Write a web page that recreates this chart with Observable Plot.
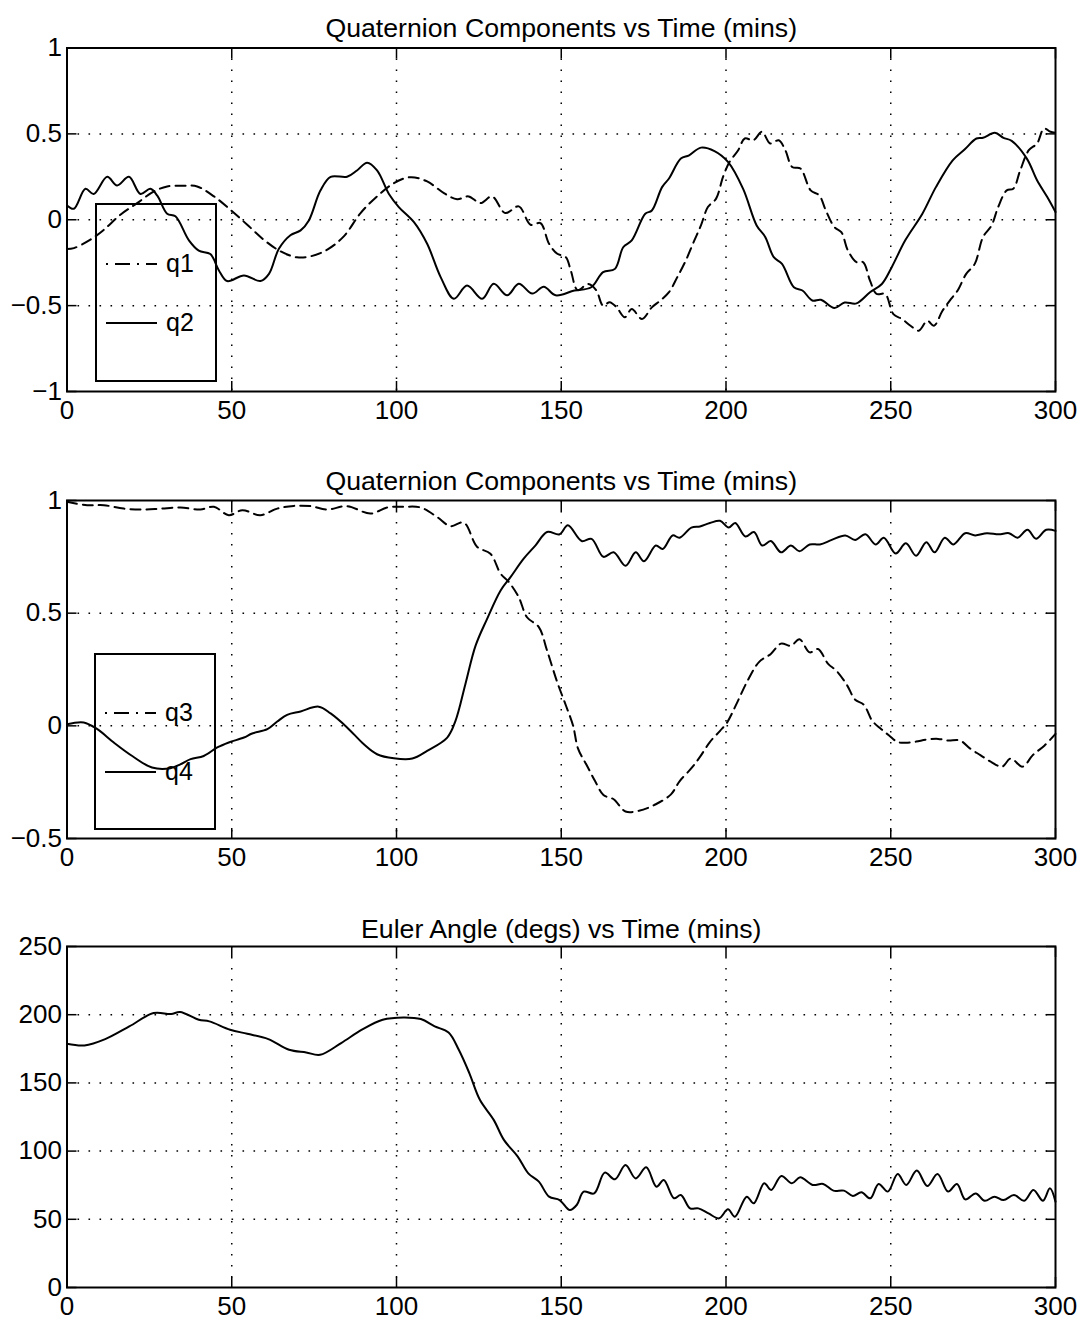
<!DOCTYPE html>
<html><head><meta charset="utf-8">
<script src="https://cdn.jsdelivr.net/npm/d3@7"></script>
<script src="https://cdn.jsdelivr.net/npm/@observablehq/plot@0.6"></script>
<style>
html,body{margin:0;padding:0;background:#fff;}
#page{position:relative;width:1086px;height:1324px;overflow:hidden;background:#fff;}
.panel{position:absolute;left:0;}
.legend{position:absolute;pointer-events:none;overflow:visible;}
</style></head><body><div id="page"></div>
<script>
// ---------- data ----------
const xTicks = [0, 50, 100, 150, 200, 250, 300];
const yTicksQ12 = [-1, -0.5, 0, 0.5, 1];
const yTicksQ34 = [-0.5, 0, 0.5, 1];
const yTicksEuler = [0, 50, 100, 150, 200, 250];

const titleQ = "Quaternion Components vs Time (mins)";
const titleEuler = "Euler Angle (degs) vs Time (mins)";

const q1T = [0,2.1,7.1,11.2,16.2,21.3,26.4,30.4,35.5,39.5,44.6,49.6,54.7,59.7,64.8,69.8,73.9,79,84,89.1,94.1,99.2,104.2,109.3,114.4,118.4,121.9,125.5,129,133,137.1,140.7,143.7,146.3,148.8,151.4,152.9,155,158.1,160.6,162.7,164.7,166.8,169.3,171.4,174.5,177.5,180.1,182.7,185.2,187.8,190.4,192.4,194.5,197,199.1,201.1,203.7,205.7,208.3,210.9,213.4,216,218,220.1,222.6,225.7,228.3,230.3,232.9,235,237,239.6,241.6,243.7,245.7,248.3,250.8,253.4,256,258.5,261.1,263.1,265.7,268.3,270.3,272.9,275.5,278,280.6,282.6,285.2,287.2,289.3,291.9,294.4,296.5,298.5,300];
const q1V = [-0.17,-0.165,-0.116,-0.058,0.029,0.097,0.165,0.194,0.198,0.194,0.136,0.058,-0.029,-0.116,-0.184,-0.219,-0.213,-0.174,-0.097,0.039,0.136,0.213,0.248,0.223,0.155,0.12,0.136,0.097,0.136,0.039,0.078,-0.029,-0.02,-0.14,-0.198,-0.218,-0.296,-0.41,-0.374,-0.41,-0.5,-0.48,-0.51,-0.568,-0.52,-0.578,-0.51,-0.47,-0.422,-0.335,-0.237,-0.12,-0.033,0.074,0.123,0.25,0.337,0.405,0.473,0.463,0.512,0.444,0.463,0.405,0.307,0.298,0.171,0.142,0.054,-0.043,-0.072,-0.179,-0.247,-0.247,-0.354,-0.432,-0.432,-0.549,-0.578,-0.617,-0.646,-0.588,-0.617,-0.53,-0.461,-0.412,-0.315,-0.257,-0.101,-0.033,0.074,0.171,0.181,0.288,0.405,0.444,0.531,0.512,0.506];

const q2T = [0,2.1,5.6,8.1,12.2,15.2,18.8,22.3,25.3,27.4,30.4,32.9,37,40,43.5,46.1,48.6,53.7,58.7,61.3,64.3,67.8,70.9,73.4,76.9,80,85,88,91.1,94.1,97.7,100.7,105.3,109.3,113.4,117.4,121.4,126,129.5,133.6,137.1,141.2,144.7,148.3,154,159.1,162.7,166.3,168.8,171.4,175.5,177.5,180.6,182.7,186.3,188.8,192.4,196.5,200.6,205.2,209.3,211.9,214.5,217,220.6,223.2,226.2,228.8,232.9,236,239.6,243.7,247.3,250.3,254.4,259.6,263.7,268.8,272.4,276,278,281.6,284.2,286.7,291.3,294.4,297.5,300];
const q2V = [0.083,0.064,0.18,0.15,0.25,0.20,0.25,0.15,0.18,0.14,0.035,0.02,-0.12,-0.18,-0.20,-0.295,-0.357,-0.324,-0.357,-0.315,-0.169,-0.09,-0.062,-0.004,0.17,0.25,0.25,0.287,0.332,0.287,0.15,0.074,-0.014,-0.14,-0.334,-0.46,-0.383,-0.46,-0.373,-0.44,-0.373,-0.43,-0.39,-0.44,-0.412,-0.393,-0.305,-0.286,-0.16,-0.12,0.035,0.054,0.19,0.24,0.356,0.375,0.42,0.40,0.337,0.18,-0.033,-0.10,-0.218,-0.257,-0.393,-0.412,-0.47,-0.466,-0.514,-0.482,-0.487,-0.422,-0.374,-0.276,-0.12,0.035,0.19,0.346,0.409,0.473,0.477,0.506,0.477,0.459,0.356,0.23,0.132,0.045];

const q3T = [0,6.1,11.2,17.2,23.3,28.4,34.4,40.5,44.6,49.1,53.2,58.7,63.8,68.8,73.9,79,85,92.1,97.2,102.2,107.3,112.3,116.4,120.4,124.5,128.5,131.6,134.1,137.1,139.6,143.2,145.7,148.8,151.5,153.6,155.1,157.7,160.3,162.8,165.9,169.5,173.6,178.7,183.3,185.9,189.5,192.1,195.1,198.2,200.3,203.3,206.4,210,213.6,216.7,219.7,222.3,225.4,227.9,231,233.6,236.7,239.2,241.8,244.4,246.9,249.5,252.1,254.6,257.7,260.8,264.4,267.4,271,274.1,277.2,280.3,283.8,286.4,290,293.1,296.7,300];
const q3V = [0.994,0.979,0.979,0.964,0.96,0.964,0.969,0.96,0.972,0.935,0.957,0.935,0.964,0.976,0.975,0.96,0.975,0.942,0.969,0.972,0.969,0.927,0.886,0.902,0.794,0.764,0.675,0.638,0.571,0.482,0.438,0.334,0.193,0.087,0,-0.101,-0.174,-0.246,-0.307,-0.326,-0.38,-0.377,-0.348,-0.304,-0.246,-0.188,-0.138,-0.072,-0.022,0.014,0.101,0.196,0.283,0.319,0.365,0.355,0.384,0.326,0.341,0.275,0.243,0.181,0.116,0.094,0.022,-0.012,-0.043,-0.072,-0.075,-0.07,-0.061,-0.058,-0.065,-0.065,-0.101,-0.13,-0.159,-0.181,-0.145,-0.181,-0.13,-0.087,-0.036];

const q4T = [0,5.1,9.2,14.2,19.8,25.8,31.4,34.4,37.5,41.5,45.6,49.1,53.7,56.2,60.8,63.8,66.8,70.9,76.4,80,85,90.1,94.1,99.2,104.8,109.3,115.4,117.9,120.9,124,127.5,131.6,134.6,138.6,142.2,145.7,149.5,152,156.2,159.2,162.8,165.9,169.5,172.6,175.1,178.7,180.8,183.8,185.9,189.5,192.1,195.1,198.2,200.8,202.8,205.9,208.5,211,213.6,216.7,219.7,222.3,225.4,228.5,232.1,236.2,239.2,242.3,245.4,247.9,251.5,254.6,257.7,260.8,263.3,266.4,269,272.6,275.6,279.2,282.8,285.9,288.5,291.5,294.1,297.2,300];
const q4V = [0.007,0.015,-0.015,-0.074,-0.134,-0.185,-0.188,-0.171,-0.148,-0.134,-0.096,-0.074,-0.052,-0.034,-0.015,0.019,0.049,0.064,0.085,0.055,-0.007,-0.082,-0.126,-0.144,-0.145,-0.111,-0.052,0.022,0.185,0.356,0.475,0.601,0.66,0.742,0.801,0.86,0.85,0.89,0.82,0.83,0.75,0.77,0.71,0.77,0.73,0.80,0.785,0.845,0.835,0.88,0.885,0.9,0.91,0.88,0.9,0.84,0.86,0.8,0.82,0.77,0.8,0.775,0.805,0.805,0.825,0.845,0.825,0.85,0.805,0.835,0.765,0.81,0.755,0.815,0.77,0.835,0.805,0.855,0.845,0.855,0.85,0.855,0.835,0.87,0.83,0.87,0.865];

const eulerT = [0,5.3,11.6,18.9,26.3,31.6,34.3,40,43.2,49.5,54.7,61.1,67.4,72.6,76.8,83.2,89.5,95.8,102.1,107.4,111.6,115.8,118.9,122.1,125.3,129.5,132.6,136.8,140,143.2,146.3,149.5,152.6,154.7,156.8,160,163.2,166.3,169.5,172.6,175.8,178.9,181.1,184.2,186.3,189.1,191.6,194.7,197.9,200.6,202.7,206.3,208.4,211.6,213.7,216.8,220,222.5,226.3,229.5,232.6,235.8,238.5,241.1,243.8,246.3,249.1,252.1,254.7,257.9,261.1,264.2,267.4,270.1,272.6,275.8,278.5,281.5,284.2,287.4,290.5,293.3,296.2,298.3,300];
const eulerV = [178.7,177.5,182.1,191.4,201.2,200.5,202,196.3,195.1,189,186,182.1,174.3,172.3,170.6,179.2,189,196.3,198,196.8,191.4,187,174.3,157.2,137.6,122.9,108.2,96,83.7,77.6,66.6,64.1,56.8,60.5,70.3,69,84.2,79.3,89.8,80,88.1,73.9,78.8,65.4,67.8,58,58,54.3,50.7,57.3,51.9,66.6,61.7,76.4,71.5,81.8,76.4,80.8,75.2,75.9,71,71,67.1,69.8,65.4,75.9,70.3,83.2,75.2,85.7,74.4,83.2,70.3,75.9,64.6,69,63.6,66.6,64.1,67.8,63.6,71.5,63.6,72.7,62.9];

// ---------- drawing ----------
const FONT = '"Liberation Sans", Arial, Helvetica, sans-serif';
const page = document.getElementById("page");
const DASHED = "10,6";
const fmtY = d3.format("~g");

function zip(t, v) {
  const n = Math.min(t.length, v.length);
  return d3.range(n).map(i => ({t: t[i], v: v[i]}));
}

function panel({top, height, mt, mb, yDomain, yTicks, title, titleDy, series}) {
  const grid = {stroke: "black", strokeOpacity: 1, strokeWidth: 1.5, strokeDasharray: "1.6,9.4"};
  const chart = Plot.plot({
    width: 1086, height,
    marginLeft: 66.5, marginRight: 31, marginTop: mt, marginBottom: mb,
    style: {fontFamily: FONT, color: "black", background: "transparent", overflow: "visible"},
    x: {domain: [0, 300], label: null},
    y: {domain: yDomain, label: null},
    marks: [
      Plot.gridX({ticks: xTicks.slice(1, -1), ...grid}),
      Plot.gridY({ticks: yTicks.slice(1, -1), ...grid}),
      ...series.map(s => Plot.line(zip(s.t, s.v), {
        x: "t", y: "v", curve: "catmull-rom", stroke: "black",
        strokeWidth: 2, strokeDasharray: s.dash
      })),
      Plot.frame({stroke: "black", strokeWidth: 2}),
      Plot.axisX({ticks: xTicks, anchor: "bottom", tickSize: 0, tickPadding: 9, fontSize: 26, label: null}),
      Plot.axisX({ticks: xTicks, anchor: "bottom", tickSize: 10, dy: -10, strokeWidth: 1.5, tickFormat: () => "", label: null}),
      Plot.axisX({ticks: xTicks, anchor: "top", tickSize: 10, dy: 10, strokeWidth: 1.5, tickFormat: () => "", label: null}),
      Plot.axisY({ticks: yTicks, anchor: "left", tickSize: 0, tickPadding: 5, fontSize: 26, tickFormat: fmtY, label: null}),
      Plot.axisY({ticks: yTicks, anchor: "left", tickSize: 10, dx: 10, strokeWidth: 1.5, tickFormat: () => "", label: null}),
      Plot.axisY({ticks: yTicks, anchor: "right", tickSize: 10, dx: -10, strokeWidth: 1.5, tickFormat: () => "", label: null}),
      Plot.text([title], {text: d => d, frameAnchor: "top", dy: titleDy, fontSize: 26.7, fill: "black"})
    ]
  });
  chart.classList.add("panel");
  chart.style.top = top + "px";
  page.appendChild(chart);
}

function legend(x, y, w, h, items) {
  const svg = d3.create("svg").attr("class", "legend")
    .attr("width", w).attr("height", h)
    .style("left", x + "px").style("top", y + "px");
  svg.append("rect").attr("x", 1).attr("y", 1).attr("width", w - 2).attr("height", h - 2)
    .attr("fill", "none").attr("stroke", "black").attr("stroke-width", 2);
  items.forEach(it => {
    svg.append("line").attr("x1", 11).attr("x2", 62).attr("y1", it.ly).attr("y2", it.ly)
      .attr("stroke", "black").attr("stroke-width", 1.9)
      .attr("stroke-dasharray", it.dash || null);
    svg.append("text").attr("x", 71).attr("y", it.ly + 8).text(it.label)
      .attr("font-family", FONT).attr("font-size", 25).attr("fill", "black");
  });
  page.appendChild(svg.node());
}

panel({top: 0, height: 448, mt: 47.5, mb: 57, yDomain: [-1, 1], yTicks: yTicksQ12,
  title: titleQ, titleDy: -29.5,
  series: [{t: q1T, v: q1V, dash: DASHED}, {t: q2T, v: q2V, dash: null}]});
panel({top: 448, height: 448, mt: 52, mb: 58, yDomain: [-0.5, 1], yTicks: yTicksQ34,
  title: titleQ, titleDy: -29,
  series: [{t: q3T, v: q3V, dash: DASHED}, {t: q4T, v: q4V, dash: null}]});
panel({top: 896, height: 428, mt: 50, mb: 37, yDomain: [0, 250], yTicks: yTicksEuler,
  title: titleEuler, titleDy: -27,
  series: [{t: eulerT, v: eulerV, dash: null}]});

legend(95, 203, 122, 179, [
  {label: "q1", ly: 61, dash: "2,7,15,7"},
  {label: "q2", ly: 120, dash: null}
]);
legend(94, 653, 122, 177, [
  {label: "q3", ly: 60, dash: "2,7,15,7"},
  {label: "q4", ly: 119, dash: null}
]);
</script></body></html>
